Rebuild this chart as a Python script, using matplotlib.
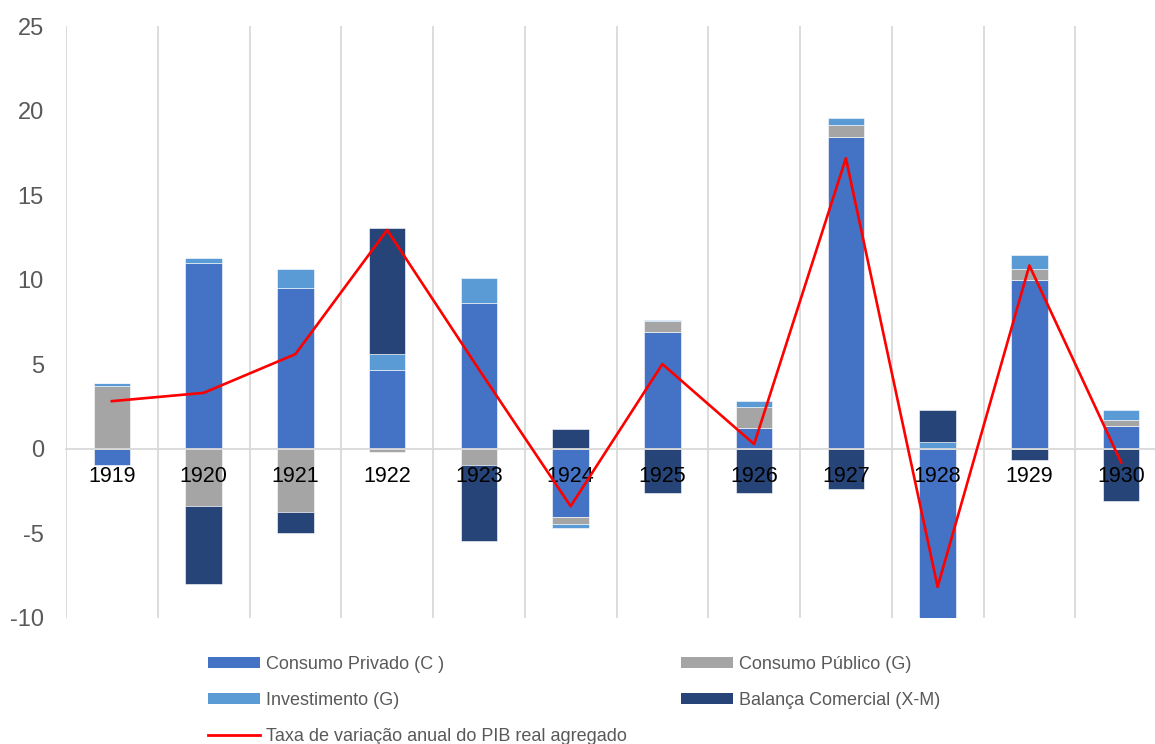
import matplotlib
matplotlib.use("Agg")
import matplotlib.pyplot as plt
from matplotlib.patches import Patch
from matplotlib.lines import Line2D
import numpy as np

plt.rcParams['font.family'] = ['Liberation Sans', 'DejaVu Sans']
plt.rcParams['axes.unicode_minus'] = False

years = ['1919', '1920', '1921', '1922', '1923', '1924',
         '1925', '1926', '1927', '1928', '1929', '1930']

consumo_privado = [-0.95, 10.99, 9.51, 4.68, 8.64, -4.04, 6.92, 1.24, 18.46, -10.4, 9.96, 1.36]
consumo_publico = [3.71, -3.37, -3.75, -0.18, -0.96, -0.38, 0.65, 1.21, 0.69, 0.0, 0.67, 0.32]
investimento = [0.18, 0.28, 1.11, 0.92, 1.46, -0.23, 0.05, 0.36, 0.42, 0.41, 0.85, 0.61]
balanca_comercial = [0.0, -4.64, -1.22, 7.48, -4.46, 1.18, -2.62, -2.62, -2.40, 1.88, -0.67, -3.09]
pib_real = [2.82, 3.31, 5.60, 12.94, 4.70, -3.39, 5.01, 0.28, 17.18, -8.16, 10.84, -0.80]

series = [
    ('Consumo Privado (C )', consumo_privado, '#4472C4'),
    ('Consumo Público (G)', consumo_publico, '#A5A5A5'),
    ('Investimento (G)', investimento, '#5B9BD5'),
    ('Balança Comercial (X-M)', balanca_comercial, '#264478'),
]
line_label = 'Taxa de variação anual do PIB real agregado'

W, H = 1155, 744
fig = plt.figure(figsize=(W / 100, H / 100), dpi=100)
ax = fig.add_axes([66 / W, (H - 618) / H, (1167 - 66) / W, (618 - 26) / H])
ax.set_axisbelow(False)

x = np.arange(len(years))
pos_base = np.zeros(len(years))
neg_base = np.zeros(len(years))
for name, vals, color in series:
    v = np.array(vals, dtype=float)
    bottoms = np.where(v >= 0, pos_base, neg_base)
    ax.bar(x, v, width=0.4, bottom=bottoms, color=color,
           edgecolor='white', linewidth=0.4, zorder=1)
    pos_base += np.where(v >= 0, v, 0)
    neg_base += np.where(v < 0, v, 0)

ax.plot(x, pib_real, color='#FF0000', linewidth=1.9, zorder=5)

ax.set_xlim(-0.5, len(years) - 0.5)
ax.set_ylim(-10, 25)
ax.set_yticks(np.arange(-10, 26, 5))

# category separators
ax.set_xticks(np.arange(-0.5, len(years), 1.0), minor=True)
ax.grid(True, which='minor', axis='x', color='#D9D9D9', linewidth=1.3)
ax.grid(False, which='major')

ax.set_xticks(x)
ax.set_xticklabels(years)
ax.tick_params(axis='x', which='both', length=0, labelsize=15.5, labelcolor='black', pad=12)
ax.tick_params(axis='y', length=0, labelsize=17, labelcolor='#595959', pad=16)

for side in ['top', 'right', 'left']:
    ax.spines[side].set_visible(False)
ax.spines['bottom'].set_position(('data', 0))
ax.spines['bottom'].set_color('#D9D9D9')
ax.spines['bottom'].set_linewidth(1.3)

handles = {name: Patch(facecolor=color, edgecolor='none') for name, _, color in series}
line_handle = Line2D([0], [0], color='#FF0000', linewidth=2)

leg_kw = dict(frameon=False, fontsize=13, labelcolor='#595959', handlelength=2.9,
              handleheight=0.6, handletextpad=0.3, labelspacing=1.05,
              borderpad=0, borderaxespad=0, loc='upper left',
              bbox_transform=fig.transFigure)

leg1 = fig.legend([handles['Consumo Privado (C )'], handles['Investimento (G)'], line_handle],
                  ['Consumo Privado (C )', 'Investimento (G)', line_label],
                  bbox_to_anchor=(208 / W, (H - 656) / H), **leg_kw)
leg2 = fig.legend([handles['Consumo Público (G)'], handles['Balança Comercial (X-M)']],
                  ['Consumo Público (G)', 'Balança Comercial (X-M)'],
                  bbox_to_anchor=(681 / W, (H - 656) / H), **leg_kw)

fig.savefig('out.png', dpi=100)
